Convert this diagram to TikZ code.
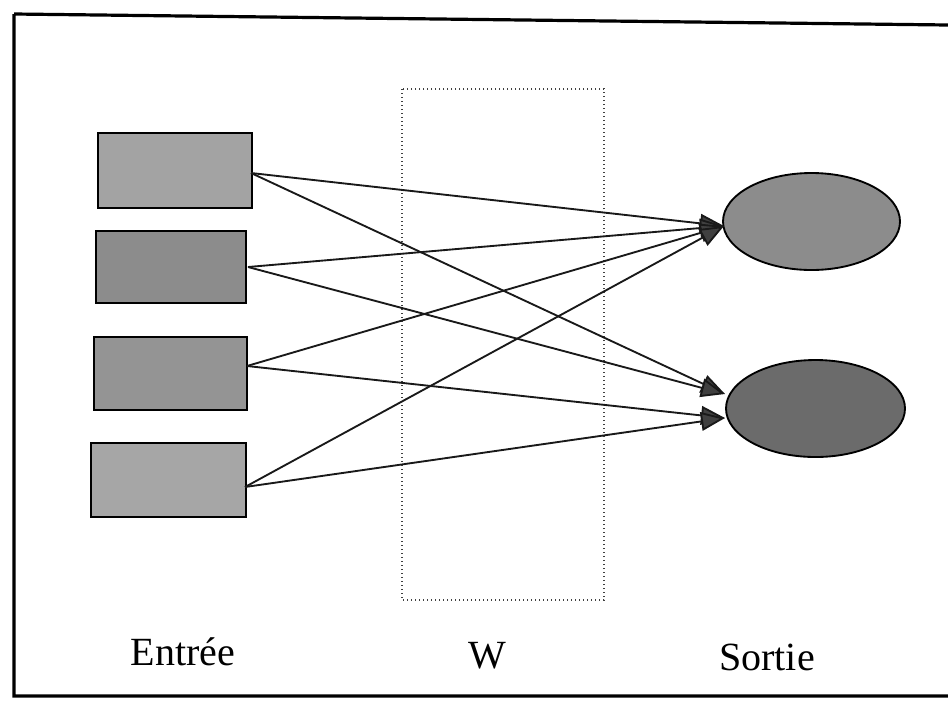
\documentclass[tikz,border=0pt]{standalone}
\usepackage{fontspec}
\setmainfont{Liberation Serif}
\usetikzlibrary{shapes.geometric,arrows.meta}

\begin{document}
\begin{tikzpicture}[x=0.75pt,y=-0.75pt,
  inbox/.style={draw=black,line width=2pt,inner sep=0pt,rectangle},
  outell/.style={draw=black,line width=1.4pt,ellipse,inner sep=0pt},
  link/.style={draw=black!90,line width=1.4pt,
    -{Triangle[length=18pt,width=14pt,fill=black!75]}},
  lbl/.style={font=\fontsize{30}{30}\selectfont,anchor=base,inner sep=0pt}]
\useasboundingbox (0,0) rectangle (948,701);

% outer frame
\draw[line width=2.4pt] (14,14) -- (948,25) (14,14) -- (14,696) -- (948,696);

% weight layer
\draw[dotted,line width=1pt,black!75] (402,89) rectangle (604,600);

% input boxes
\node[inbox,fill=black!36,minimum width=115.5pt,minimum height=56.25pt] (i1) at (175,170.5) {};
\node[inbox,fill=black!45,minimum width=112.5pt,minimum height=54pt] (i2) at (171,267) {};
\node[inbox,fill=black!42,minimum width=114.75pt,minimum height=54.75pt] (i3) at (170.5,373.5) {};
\node[inbox,fill=black!35,minimum width=116.25pt,minimum height=55.5pt] (i4) at (168.5,480) {};

% output units
\node[outell,fill=black!45,minimum width=132.75pt,minimum height=72.75pt] (o1) at (811.5,221.5) {};
\node[outell,fill=black!58,minimum width=134.25pt,minimum height=72.75pt] (o2) at (815.5,408.5) {};

% arrow end points at the output units
\coordinate (t1) at (724,226);
\coordinate (t2) at (725,394);
\coordinate (t3) at (725,418);

% connection start points on the input boxes
\coordinate (s1) at (251,173);
\coordinate (s2) at (248,267);
\coordinate (s3) at (247,366);
\coordinate (s4) at (245,487);

\draw[link] (s1) -- (t1);
\draw[link] (s1) -- (t2);
\draw[link] (s2) -- (t1);
\draw[link] (s2) -- (t2);
\draw[link] (s3) -- (t1);
\draw[link] (s3) -- (t3);
\draw[link] (s4) -- (t1);
\draw[link] (s4) -- (t3);

% layer captions
\node[lbl] (le) at (183,665) {Entrée};
\node[lbl] (lw) at (487,668) {W};
\node[lbl] (ls) at (767,670) {Sortie};
\end{tikzpicture}
\end{document}
